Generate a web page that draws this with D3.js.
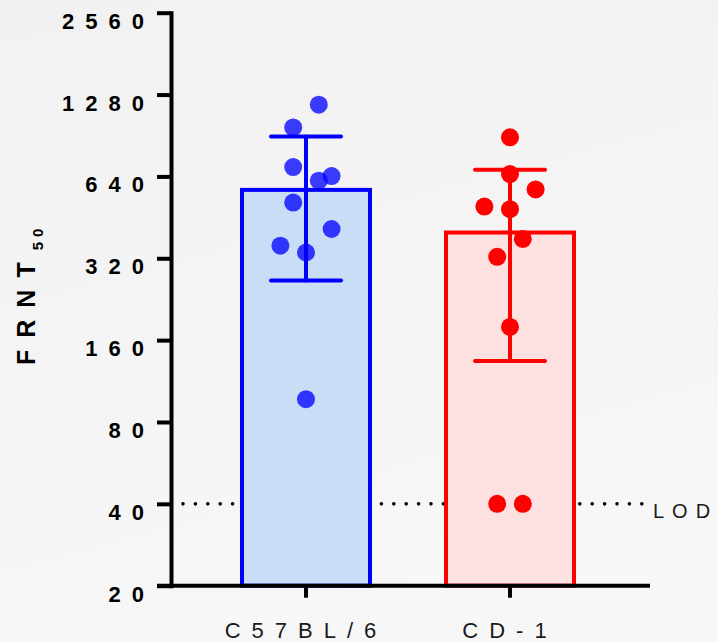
<!DOCTYPE html>
<html>
<head>
<meta charset="utf-8">
<script src="https://cdn.jsdelivr.net/npm/d3@7"></script>
<style>
  body { margin: 0; background: #f2f2f2; }
  svg text { font-family: "Liberation Sans", Arial, sans-serif; }
</style>
</head>
<body>
<div id="chart"></div>
<script>
// data
var categories = ["C57BL/6", "CD-1"];
var c57Values = [1175, 969, 693, 617, 642, 513, 410, 356, 336, 97];
var cd1Values = [891, 653, 573, 496, 485, 377, 324, 179, 40, 40];
// horizontal scatter slot of each point (in dot half-widths)
var c57Jitter = [1, -1, -1, 1, 2, -1, 2, -2, 0, 0];
var cd1Jitter = [0, 0, 2, -2, 0, 1, -1, 0, -1, 1];
var barMeans = [571, 398];
var errLow = [265, 134];
var errHigh = [898, 677];
var yTicks = [20, 40, 80, 160, 320, 640, 1280, 2560];
var lodValue = 40;

var width = 718, height = 642;
var colors = ["#0000ff", "#ff0000"];
var fills = ["#c9ddf7", "#fde0e0"];

var svg = d3.select("#chart")
  .append("svg")
  .attr("width", width)
  .attr("height", height);

var grad = svg.append("defs").append("linearGradient")
  .attr("id", "bg").attr("x1", 0).attr("y1", 0).attr("x2", 0.3).attr("y2", 1);
grad.append("stop").attr("offset", "0%").attr("stop-color", "#f1f1f1");
grad.append("stop").attr("offset", "100%").attr("stop-color", "#f7f7f7");
svg.append("rect").attr("width", width).attr("height", height).attr("fill", "url(#bg)");

var axisX = 171;
var y = d3.scaleLog().base(2)
  .domain([20, 2560])
  .range([585.7, 12.7]);

var x = d3.scaleBand()
  .domain(categories)
  .range([204, 612]);

var cx = function (c) { return x(c) + x.bandwidth() / 2; };
var barW = 128;
var jitterUnit = 12.8;

// LOD dotted line
svg.append("line")
  .attr("x1", 183).attr("x2", 648)
  .attr("y1", y(lodValue)).attr("y2", y(lodValue))
  .attr("stroke", "#000")
  .attr("stroke-width", 3.6)
  .attr("stroke-linecap", "round")
  .attr("stroke-dasharray", "0,12.4");

svg.append("text")
  .attr("x", 653)
  .attr("y", y(lodValue) + 14)
  .attr("font-size", 20)
  .attr("letter-spacing", 8)
  .attr("fill", "#1a1a1a")
  .text("LOD");

// bars
svg.append("g")
  .selectAll("rect")
  .data(categories)
  .join("rect")
  .attr("x", d => cx(d) - barW / 2)
  .attr("width", barW)
  .attr("y", (d, i) => y(barMeans[i]))
  .attr("height", (d, i) => y(20) - y(barMeans[i]))
  .attr("fill", (d, i) => fills[i])
  .attr("stroke", (d, i) => colors[i])
  .attr("stroke-width", 4);

// error bars
var eb = svg.append("g")
  .selectAll("g")
  .data(categories)
  .join("g")
  .attr("stroke", (d, i) => colors[i])
  .attr("stroke-width", 4)
  .attr("stroke-linecap", "round");

eb.append("line")
  .attr("x1", d => cx(d)).attr("x2", d => cx(d))
  .attr("y1", (d, i) => y(errLow[i]))
  .attr("y2", (d, i) => y(errHigh[i]));
eb.append("line")
  .attr("x1", d => cx(d) - 35).attr("x2", d => cx(d) + 35)
  .attr("y1", (d, i) => y(errHigh[i]))
  .attr("y2", (d, i) => y(errHigh[i]));
eb.append("line")
  .attr("x1", d => cx(d) - 35).attr("x2", d => cx(d) + 35)
  .attr("y1", (d, i) => y(errLow[i]))
  .attr("y2", (d, i) => y(errLow[i]));

// points
var groups = [
  { cat: categories[0], values: c57Values, jitter: c57Jitter, color: colors[0], opacity: 0.76 },
  { cat: categories[1], values: cd1Values, jitter: cd1Jitter, color: colors[1], opacity: 1 }
];
groups.forEach(function (g) {
  svg.append("g")
    .selectAll("circle")
    .data(g.values)
    .join("circle")
    .attr("cx", (d, i) => cx(g.cat) + g.jitter[i] * jitterUnit)
    .attr("cy", d => y(d))
    .attr("r", 9)
    .attr("fill", g.color)
    .attr("fill-opacity", g.opacity);
});

// y axis
var yAxis = svg.append("g")
  .attr("transform", "translate(" + axisX + ",0)")
  .call(d3.axisLeft(y).tickValues(yTicks).tickFormat(d3.format("d")).tickSize(14).tickSizeOuter(0));
yAxis.select(".domain")
  .attr("stroke", "#000").attr("stroke-width", 4).attr("stroke-linecap", "square");
yAxis.selectAll(".tick line").attr("stroke", "#000").attr("stroke-width", 4);
yAxis.selectAll(".tick text")
  .attr("x", -16)
  .attr("y", 15.5)
  .attr("dy", 0)
  .attr("fill", "#000")
  .attr("font-size", 22)
  .attr("font-weight", "bold")
  .attr("letter-spacing", 11)
  .attr("font-family", "'Liberation Sans', Arial, sans-serif");

// x axis
var xAxis = svg.append("g")
  .attr("transform", "translate(0," + y(20) + ")")
  .call(d3.axisBottom(x).tickSize(12).tickSizeOuter(0));
xAxis.select(".domain").remove();
xAxis.append("line")
  .attr("x1", axisX - 14).attr("x2", 650)
  .attr("stroke", "#000").attr("stroke-width", 4);
xAxis.selectAll(".tick line").attr("stroke", "#000").attr("stroke-width", 4);
xAxis.selectAll(".tick text")
  .attr("y", 52)
  .attr("dy", 0)
  .attr("fill", "#1a1a1a")
  .attr("font-size", 22)
  .attr("letter-spacing", 11)
  .attr("font-family", "'Liberation Sans', Arial, sans-serif");

// y title
var title = svg.append("text")
  .attr("transform", "translate(35,365) rotate(-90)")
  .attr("font-size", 25)
  .attr("font-weight", "bold")
  .attr("fill", "#000");
title.append("tspan").attr("letter-spacing", 12).text("FRNT");
title.append("tspan").attr("font-size", 15).attr("dy", 8).attr("letter-spacing", 5).text("50");
</script>
</body>
</html>
